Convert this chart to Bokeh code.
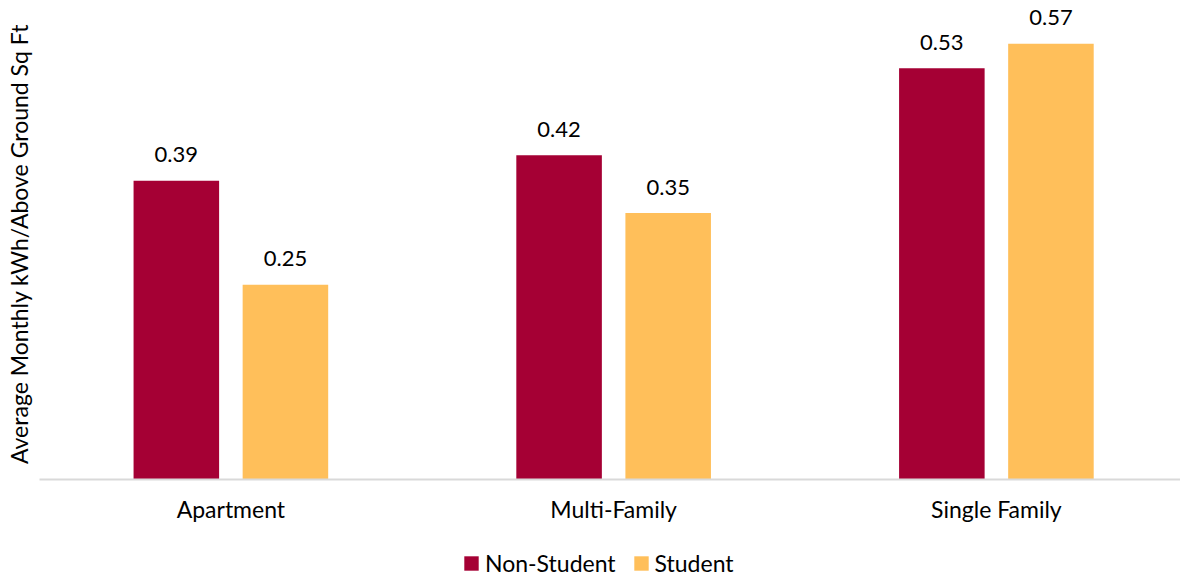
from bokeh.plotting import figure
from bokeh.models import ColumnDataSource, Range1d, FixedTicker, Legend, LegendItem
from bokeh.layouts import column
from bokeh.embed import file_html
from bokeh.resources import INLINE
from bokeh.core.properties import value

categories = ["Apartment", "Multi-Family", "Single Family"]
series_names = ["Non-Student", "Student"]
non_student = [0.388, 0.421, 0.534]
student = [0.253, 0.346, 0.566]
colors = ["#A50034", "#FFBF5A"]

FONT = "Lato"
FS = "23px"
offset = 0.1425
bar_w = 0.2235

centers = [i + 0.5 for i in range(len(categories))]

p = figure(frame_width=1141, frame_height=471, output_backend="svg", toolbar_location=None,
           x_range=Range1d(0, 2.981), y_range=Range1d(0, 0.6117),
           min_border_left=39, min_border_right=0, min_border_top=8, min_border_bottom=61)
p.outline_line_color = None
p.grid.visible = False
p.background_fill_color = "white"

for vals, col, sign in [(non_student, colors[0], -1), (student, colors[1], 1)]:
    src = ColumnDataSource(dict(x=[c + sign * offset for c in centers], top=vals,
                                label=[f"{v:.2f}" for v in vals]))
    p.vbar(x="x", top="top", width=bar_w, bottom=0, source=src, fill_color=col, line_color=None)
    p.text(x="x", y="top", text="label", source=src, text_align="center", text_baseline="alphabetic",
           y_offset=-26, text_font=value(FONT), text_font_size="22px", text_color="#000000")

# x axis
p.xaxis.ticker = FixedTicker(ticks=centers)
p.xaxis.major_label_overrides = {c: name for c, name in zip(centers, categories)}
p.xaxis.major_tick_line_color = None
p.xaxis.minor_tick_line_color = None
p.xaxis.major_tick_out = 0
p.xaxis.major_tick_in = 0
p.xaxis.axis_line_color = "#D9D9D9"
p.xaxis.axis_line_width = 2
p.xaxis.major_label_text_font = FONT
p.xaxis.major_label_text_font_size = FS
p.xaxis.major_label_text_color = "#000000"
p.xaxis.major_label_standoff = 15

# y axis
p.yaxis.ticker = FixedTicker(ticks=[])
p.yaxis.major_tick_out = 0
p.yaxis.minor_tick_out = 0
p.yaxis.axis_line_color = None
p.yaxis.axis_label = "Average Monthly kWh/Above Ground Sq Ft"
p.yaxis.axis_label_text_font = FONT
p.yaxis.axis_label_text_font_size = FS
p.yaxis.axis_label_text_font_style = "normal"
p.yaxis.axis_label_text_color = "#000000"
p.yaxis.axis_label_standoff = 7

# legend strip (swatch renderers sit outside the visible range; only the legend shows)
p2 = figure(width=1180, height=37, output_backend="svg", toolbar_location=None,
            x_axis_type=None, y_axis_type=None, x_range=Range1d(0, 1), y_range=Range1d(0, 1),
            min_border_left=0, min_border_right=0, min_border_top=0, min_border_bottom=0)
p2.outline_line_color = None
p2.grid.visible = False
swatches = [p2.vbar(x=[-5], top=[-5], bottom=[-6], width=0.1, fill_color=c, line_color=None)
            for c in colors]

legend = Legend(items=[LegendItem(label=n, renderers=[r]) for n, r in zip(series_names, swatches)],
                location=(423, 0), orientation="horizontal")
legend.border_line_color = None
legend.background_fill_alpha = 0
legend.label_text_font = FONT
legend.label_text_font_size = FS
legend.label_text_color = "#000000"
legend.glyph_width = 18
legend.glyph_height = 18
legend.label_standoff = 5
legend.spacing = 16
legend.padding = 0
legend.margin = 0
p2.add_layout(legend, "center")

open("out.html", "w").write(file_html(column(p, p2, spacing=0), INLINE))
